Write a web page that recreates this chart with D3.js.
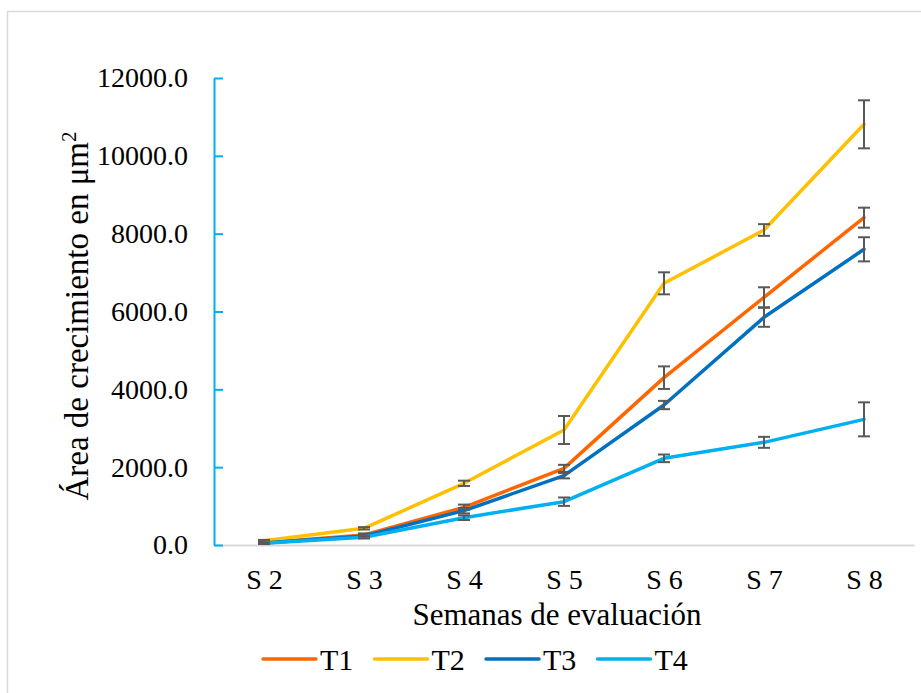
<!DOCTYPE html>
<html>
<head>
<meta charset="utf-8">
<script src="https://cdn.jsdelivr.net/npm/d3@7/dist/d3.min.js"></script>
<style>
  html, body { margin: 0; padding: 0; background: #fff; }
  svg { display: block; font-family: "Liberation Serif", "Times New Roman", serif; }
</style>
</head>
<body>
<script>
// weeks and series
const weeks = ["S 2", "S 3", "S 4", "S 5", "S 6", "S 7", "S 8"];
const seriesNames = ["T1", "T2", "T3", "T4"];
const t1 = [60, 257, 968, 1970, 4300, 6365, 8411];
const t2 = [111, 429, 1585, 2955, 6724, 8094, 10810];
const t3 = [50, 231, 882, 1782, 3597, 5851, 7598];
const t4 = [44, 197, 702, 1113, 2227, 2638, 3229];
// error bar half-widths
const e1 = [30, 40, 70, 90, 290, 257, 257];
const e2 = [20, 30, 68, 360, 283, 150, 617];
const e3 = [20, 30, 70, 70, 107, 244, 310];
const e4 = [20, 30, 60, 108, 98, 141, 437];
const yTicks = [0, 2000, 4000, 6000, 8000, 10000, 12000];

const colors = ["#FF6600", "#FFC000", "#0070C0", "#00B0F0"];
const allVals = [t1, t2, t3, t4];
const allErrs = [e1, e2, e3, e4];

const series = seriesNames.map((name, i) => ({
  name: name,
  color: colors[i],
  points: weeks.map((w, j) => ({ week: w, value: allVals[i][j], err: allErrs[i][j] }))
}));

const W = 921, H = 693;
const plot = { left: 214, right: 914, top: 78, bottom: 545 };

const svg = d3.select("body").append("svg")
  .attr("width", W)
  .attr("height", H);

svg.append("rect").attr("width", W).attr("height", H).attr("fill", "#fff");

// chart border (runs off the right and bottom edges)
svg.append("rect")
  .attr("x", 7.5).attr("y", 11.5)
  .attr("width", W + 10).attr("height", H + 10)
  .attr("fill", "none")
  .attr("stroke", "#d9d9d9")
  .attr("stroke-width", 1.5);

const x = d3.scalePoint().domain(weeks).range([plot.left, plot.right]).padding(0.5);
const y = d3.scaleLinear().domain([0, 12000]).range([plot.bottom, plot.top]);

// x axis: gray baseline + labels
const gx = svg.append("g")
  .attr("transform", `translate(0,${plot.bottom})`)
  .call(d3.axisBottom(x).tickSize(0).tickPadding(24));
gx.select(".domain").attr("stroke", "#d9d9d9").attr("stroke-width", 2);
gx.selectAll(".tick text").attr("font-size", 28).attr("fill", "#000")
  .attr("font-family", "Liberation Serif");

// y axis: light blue line with ticks pointing inside
const gy = svg.append("g")
  .attr("transform", `translate(${plot.left},0)`)
  .call(d3.axisLeft(y).tickValues(yTicks).tickFormat(d3.format(".1f"))
    .tickSizeInner(-9).tickSizeOuter(0).tickPadding(26));
gy.select(".domain").attr("stroke", "#00B0F0").attr("stroke-width", 2);
gy.selectAll(".tick line").attr("stroke", "#00B0F0").attr("stroke-width", 2);
gy.selectAll(".tick text").attr("font-size", 28).attr("fill", "#000")
  .attr("font-family", "Liberation Serif");

// lines
const line = d3.line().x(d => x(d.week)).y(d => y(d.value));

const sg = svg.selectAll(".series")
  .data(series)
  .join("g")
  .attr("class", "series");

sg.append("path")
  .attr("d", d => line(d.points))
  .attr("fill", "none")
  .attr("stroke", d => d.color)
  .attr("stroke-width", 3.5)
  .attr("stroke-linejoin", "round")
  .attr("stroke-linecap", "round");

// error bars
const eb = sg.selectAll(".err")
  .data(d => d.points)
  .join("g")
  .attr("class", "err")
  .attr("stroke", "#595959")
  .attr("stroke-width", 2);

eb.append("line")
  .attr("x1", d => x(d.week)).attr("x2", d => x(d.week))
  .attr("y1", d => y(d.value + d.err)).attr("y2", d => y(d.value - d.err));
eb.append("line")
  .attr("x1", d => x(d.week) - 6).attr("x2", d => x(d.week) + 6)
  .attr("y1", d => y(d.value + d.err)).attr("y2", d => y(d.value + d.err));
eb.append("line")
  .attr("x1", d => x(d.week) - 6).attr("x2", d => x(d.week) + 6)
  .attr("y1", d => y(d.value - d.err)).attr("y2", d => y(d.value - d.err));

// axis titles
svg.append("text")
  .attr("x", 557).attr("y", 625)
  .attr("text-anchor", "middle")
  .attr("font-size", 31)
  .text("Semanas de evaluación");

const yt = svg.append("text")
  .attr("transform", "translate(88,316) rotate(-90)")
  .attr("text-anchor", "middle")
  .attr("font-size", 33);
yt.append("tspan").text("Área de crecimiento en μm");
yt.append("tspan").attr("font-size", 21).attr("dy", -12).text("2");

// legend
const legX = d3.scaleBand().domain(seriesNames).range([263, 263 + 4 * 111.5]);
const lg = svg.selectAll(".leg")
  .data(series)
  .join("g")
  .attr("class", "leg")
  .attr("transform", d => `translate(${legX(d.name)},659)`);
lg.append("line")
  .attr("x1", 0).attr("x2", 53)
  .attr("stroke", d => d.color)
  .attr("stroke-width", 3.5)
  .attr("stroke-linecap", "round");
lg.append("text")
  .attr("x", 57).attr("y", 11)
  .attr("font-size", 30)
  .text(d => d.name);
</script>
</body>
</html>
